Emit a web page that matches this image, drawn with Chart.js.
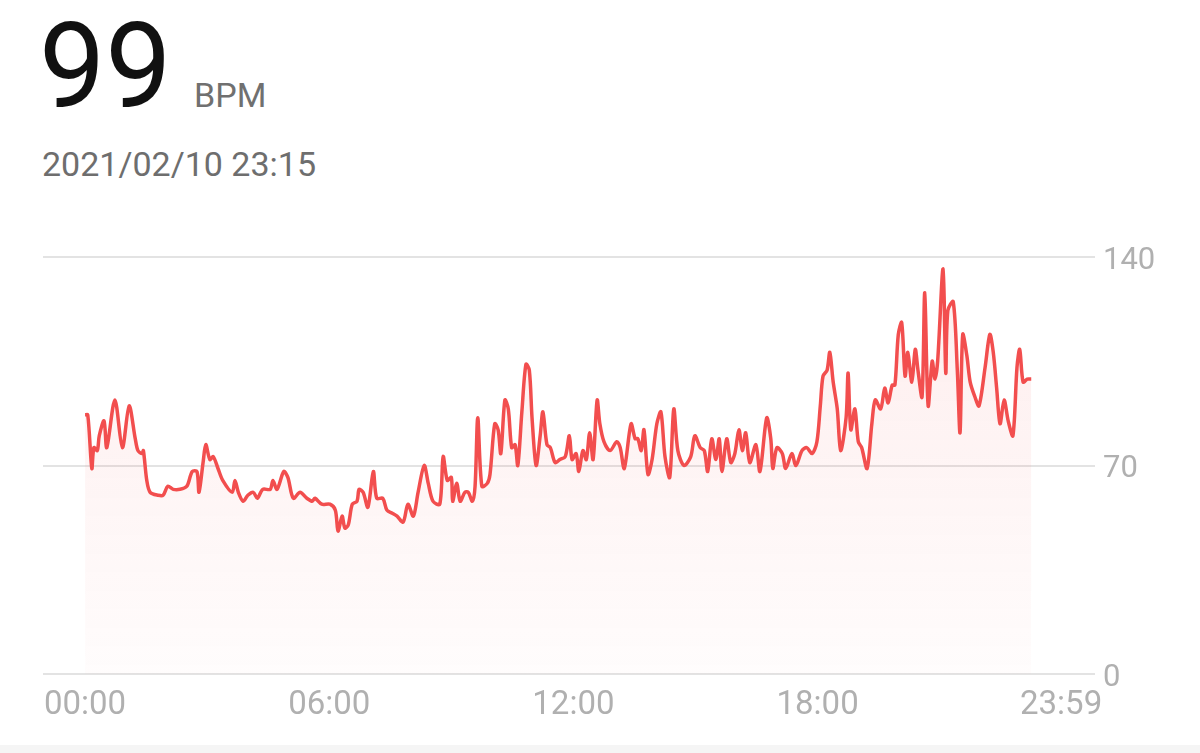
<!DOCTYPE html>
<html>
<head>
<meta charset="utf-8">
<script src="https://cdn.jsdelivr.net/npm/chart.js@4/dist/chart.umd.min.js"></script>
<style>
  html, body { margin: 0; padding: 0; background: #ffffff; }
  body { width: 1200px; height: 753px; position: relative; overflow: hidden; font-family: Roboto, "Noto Sans", sans-serif; }
  .big { position: absolute; left: 39px; top: 8px; font-size: 118px; line-height: 118px; color: #111111; }
  .unit { position: absolute; left: 194px; top: 78px; font-size: 34px; line-height: 34px; color: #707070; }
  .stamp { position: absolute; left: 42px; top: 147px; font-size: 34px; line-height: 34px; color: #6e6e6e; }
  #wrap { position: absolute; left: 0; top: 200px; width: 1200px; height: 545px; }
  .foot { position: absolute; left: 0; top: 745px; width: 1200px; height: 8px; background: #f5f5f5; }
</style>
</head>
<body>
<div class="big">99</div>
<div class="unit">BPM</div>
<div class="stamp">2021/02/10 23:15</div>
<div id="wrap"><canvas id="hr-chart"></canvas></div>
<div class="foot"></div>
<script>
// Heart rate readings, minutes since midnight -> bpm.
const minutes = [
    0, 4, 10, 13, 18, 21, 28, 32, 44, 55, 65, 74, 78, 84, 86, 91, 96, 108, 115, 122,
    130, 140, 150, 158, 165, 168, 174, 178, 184, 189, 196, 203, 217, 221, 226, 233, 240, 248, 254, 262,
    273, 277, 283, 293, 299, 307, 317, 327, 335, 339, 349, 361, 369, 373, 379, 383, 388, 394, 401, 404,
    410, 417, 425, 430, 439, 445, 453, 460, 469, 476, 484, 491, 500, 506, 513, 523, 528, 534, 540, 542,
    548, 553, 560, 565, 571, 575, 579, 585, 593, 597, 604, 609, 613, 619, 624, 629, 634, 638, 644, 650,
    655, 659, 665, 671, 675, 681, 686, 693, 700, 708, 714, 718, 724, 728, 734, 739, 744, 749, 755, 759,
    765, 774, 784, 789, 795, 805, 811, 815, 820, 824, 830, 836, 843, 849, 855, 862, 868, 874, 883, 893,
    899, 907, 913, 918, 924, 930, 935, 939, 946, 952, 958, 964, 969, 974, 980, 989, 995, 1005, 1011, 1014,
    1020, 1028, 1033, 1042, 1048, 1057, 1064, 1072, 1079, 1084, 1088, 1094, 1098, 1103, 1109, 1114, 1122, 1125, 1129, 1135,
    1140, 1145, 1153, 1160, 1165, 1173, 1179, 1184, 1190, 1194, 1199, 1204, 1209, 1213, 1219, 1224, 1228, 1234, 1238, 1243,
    1249, 1253, 1257, 1265, 1269, 1272, 1280, 1286, 1290, 1294, 1300, 1305, 1312, 1318, 1327, 1334, 1339, 1344, 1349, 1355,
    1361, 1368, 1374, 1378, 1383, 1389, 1395
];
const bpm = [
    87, 87, 69, 76, 75, 80, 85, 76, 92, 76, 90, 79, 75, 74, 75, 65, 61, 60, 60, 63,
    62, 62, 63, 68, 68, 61, 71, 77, 72, 73, 69, 65, 61, 65, 61, 58, 60, 61, 59, 62,
    62, 65, 62, 68, 66, 59, 61, 59, 58, 59, 57, 57, 55, 48, 53, 49, 50, 57, 58, 62,
    61, 56, 68, 59, 59, 55, 54, 53, 51, 57, 53, 61, 70, 64, 58, 57, 73, 65, 66, 58,
    64, 58, 61, 61, 58, 63, 86, 63, 64, 67, 84, 82, 74, 92, 89, 76, 77, 70, 88, 104,
    102, 86, 70, 80, 88, 77, 76, 71, 72, 73, 80, 72, 74, 68, 75, 72, 81, 72, 92, 84,
    78, 75, 78, 76, 69, 84, 79, 79, 75, 82, 67, 72, 84, 88, 73, 66, 89, 75, 70, 73,
    80, 76, 75, 68, 79, 72, 79, 68, 79, 71, 74, 82, 75, 81, 71, 77, 68, 86, 79, 69,
    76, 74, 69, 74, 70, 75, 76, 74, 78, 90, 100, 102, 108, 98, 89, 75, 86, 101, 82, 89,
    78, 76, 69, 84, 92, 89, 96, 91, 97, 97, 114, 118, 100, 108, 98, 109, 102, 93, 128, 90,
    105, 99, 105, 136, 101, 122, 125, 102, 81, 114, 107, 98, 93, 90, 103, 114, 108, 96, 84, 92,
    85, 80, 103, 109, 98, 99, 99
];

// Axis ticks: hour marks along the bottom, bpm marks on the right.
const xTickMinutes = [0, 360, 720, 1080, 1439];
const xTickLabels = ['00:00', '06:00', '12:00', '18:00', '23:59'];
const yTicks = [0, 70, 140];

const points = minutes.map(function(m, i) { return { x: m, y: bpm[i] }; });

function fillGradient(context) {
    const chart = context.chart;
    const area = chart.chartArea;
    if (!area) return 'rgba(242, 78, 78, 0.05)';
    const g = chart.ctx.createLinearGradient(0, area.top, 0, area.bottom);
    g.addColorStop(0, 'rgba(242, 78, 78, 0.10)');
    g.addColorStop(0.6, 'rgba(242, 78, 78, 0.05)');
    g.addColorStop(1, 'rgba(242, 78, 78, 0.015)');
    return g;
}

new Chart(document.getElementById('hr-chart'), {
    type: 'line',
    data: {
        datasets: [
            {
                data: points,
                borderColor: '#f24e4e',
                backgroundColor: fillGradient,
                borderWidth: 3.5,
                fill: 'origin',
                tension: 0.3,
                pointRadius: 0,
            }
        ]
    },
    options: {
        responsive: true,
        maintainAspectRatio: false,
        animation: false,
        layout: { padding: { left: 43, top: 57, right: 0, bottom: 0 } },
        plugins: {
            legend: { display: false },
            tooltip: { enabled: false }
        },
        scales: {
            x: {
                type: 'linear',
                min: -62,
                max: 1489,
                grid: { display: false, drawTicks: false },
                border: { display: false },
                afterBuildTicks: function(axis) {
                    axis.ticks = xTickMinutes.map(function(v) { return { value: v }; });
                },
                afterFit: function(axis) { axis.height = 71; },
                ticks: {
                    autoSkip: false,
                    maxRotation: 0,
                    padding: 12,
                    color: '#b0b0b0',
                    font: { family: 'Roboto', size: 33 },
                    callback: function(v) {
                        const i = xTickMinutes.indexOf(v);
                        return i >= 0 ? xTickLabels[i] : '';
                    }
                }
            },
            y: {
                position: 'right',
                min: 0,
                max: 140,
                grid: { color: '#e3e3e3', lineWidth: 2, drawTicks: false },
                border: { display: false },
                afterBuildTicks: function(axis) {
                    axis.ticks = yTicks.map(function(v) { return { value: v }; });
                },
                afterFit: function(axis) { axis.width = 105; },
                ticks: {
                    padding: 8,
                    labelOffset: 4,
                    color: '#b0b0b0',
                    font: { family: 'Roboto', size: 31 }
                }
            }
        }
    }
});
</script>
</body>
</html>
